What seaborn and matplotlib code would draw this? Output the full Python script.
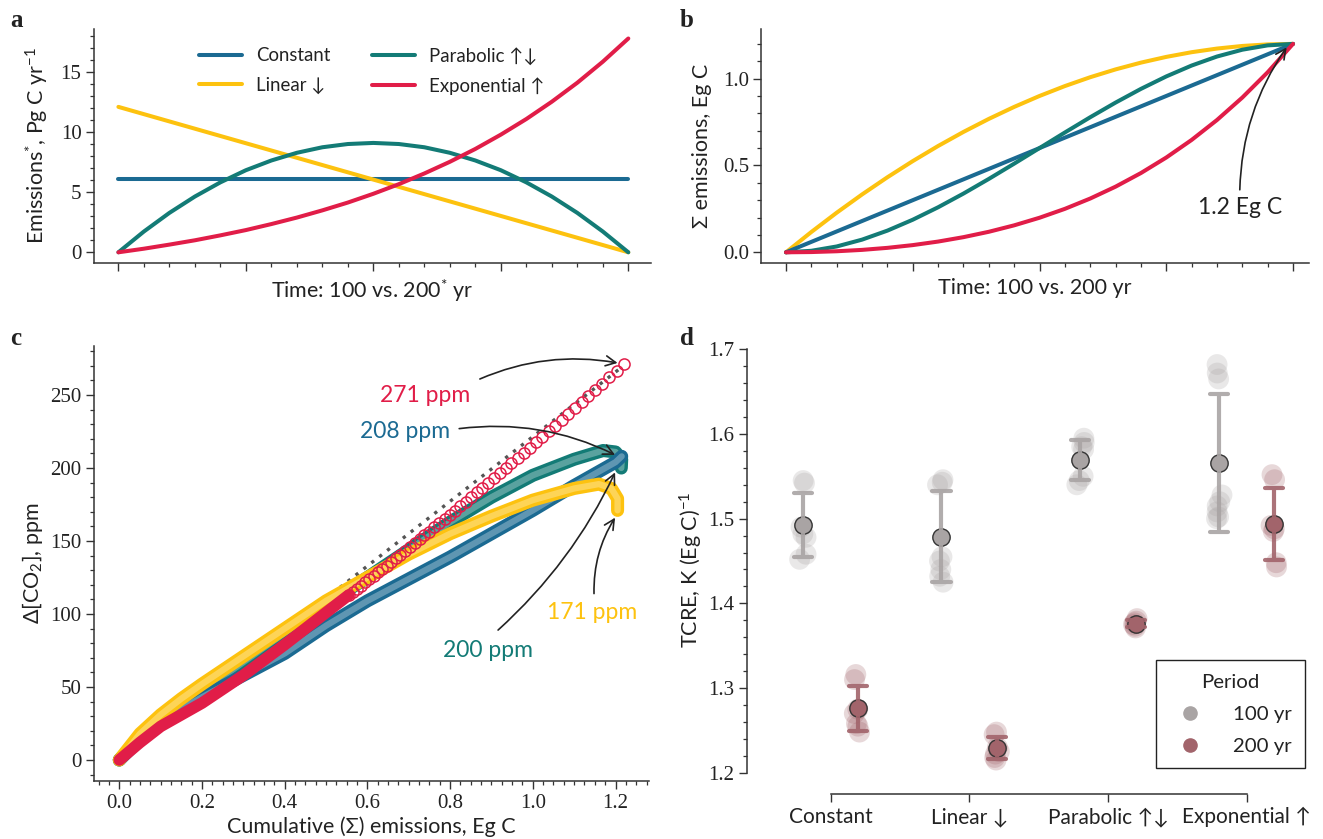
import numpy as np
import pandas as pd
import matplotlib
matplotlib.use("Agg")
import matplotlib.pyplot as plt
from matplotlib.lines import Line2D
from matplotlib.ticker import MultipleLocator, FixedLocator
import seaborn as sns

# ------------------------------------------------------------------ data
SCENARIOS = ["Constant", "Linear ↓", "Parabolic ↑↓", "Exponential ↑"]
COLORS = ["#1B6A92", "#FDC20F", "#137B76", "#E11D48"]
PERIODS = ["100 yr", "200 yr"]
PERIOD_COLORS = ["#A9A4A4", "#A2646B"]

# (a) emission pathways, years of the 200-yr version
years_flat = [0, 200]
emis_constant = [6.06, 6.06]
emis_linear = [12.1, 0.0]
years_curve = [0, 10, 20, 30, 40, 50, 60, 70, 80, 90, 100,
               110, 120, 130, 140, 150, 160, 170, 180, 190, 200]
emis_parabolic = [0.0, 1.73, 3.28, 4.64, 5.82, 6.83, 7.64, 8.28, 8.74, 9.01, 9.10,
                  9.01, 8.74, 8.28, 7.64, 6.83, 5.82, 4.64, 3.28, 1.73, 0.0]
emis_exponential = [0.0, 0.30, 0.64, 1.00, 1.41, 1.85, 2.35, 2.89, 3.49, 4.14, 4.87,
                    5.67, 6.56, 7.53, 8.60, 9.79, 11.09, 12.53, 14.11, 15.86, 17.79]

# (b) cumulative emissions, Eg C
cum_constant = [0.0, 1.2]
cum_linear = [0.0, 0.117, 0.228, 0.333, 0.432, 0.525, 0.612, 0.693, 0.768, 0.837, 0.900,
              0.957, 1.008, 1.053, 1.092, 1.125, 1.152, 1.173, 1.188, 1.197, 1.2]
cum_parabolic = [0.0, 0.0087, 0.0336, 0.0729, 0.1248, 0.1875, 0.2592, 0.3381, 0.4224, 0.5103, 0.6,
                 0.6897, 0.7776, 0.8619, 0.9408, 1.0125, 1.0752, 1.1271, 1.1664, 1.1913, 1.2]
cum_exponential = [0.0, 0.0014, 0.0060, 0.0139, 0.0256, 0.0414, 0.0618, 0.0872, 0.1181, 0.1552, 0.1989,
                   0.2501, 0.3095, 0.3779, 0.4563, 0.5456, 0.6469, 0.7616, 0.8910, 1.0365, 1.2]

# (c) CO2 response vs cumulative emissions
c_const_x = [0.0, 0.05, 0.1, 0.15, 0.2, 0.3, 0.4, 0.5, 0.6, 0.7, 0.8, 0.9, 1.0, 1.1, 1.2, 1.215]
c_const_y = [0, 14, 26, 35, 43, 58, 73, 92, 109, 124, 139, 155, 171, 188, 204, 208]
c_para_x = [0.0, 0.05, 0.1, 0.15, 0.2, 0.3, 0.4, 0.5, 0.6, 0.7, 0.8, 0.9, 1.0, 1.1, 1.17, 1.2, 1.215, 1.214]
c_para_y = [0, 15, 28, 38, 47, 67, 87, 107, 125, 144, 163, 180, 195, 206, 212, 211, 206, 200]
c_lin_x = [0.0, 0.05, 0.1, 0.15, 0.2, 0.3, 0.4, 0.5, 0.6, 0.7, 0.8, 0.9, 1.0, 1.1, 1.16, 1.19, 1.205, 1.205]
c_lin_y = [0, 18, 31, 42, 52, 71, 90, 109, 125, 141, 155, 167, 178, 186, 189, 186, 179, 171]
c_exp_x = [0.0, 0.05, 0.1, 0.15, 0.2, 0.3, 0.4, 0.5, 0.555]
c_exp_y = [0, 12, 23, 31, 39, 58, 79, 101, 113]
# late-period yearly samples of the exponential run
c_exp_ring_x = [0.5547, 0.5644, 0.5742, 0.5842, 0.5942, 0.6045, 0.6149, 0.6255, 0.6360, 0.6468,
                0.6577, 0.6688, 0.6798, 0.6912, 0.7026, 0.7143, 0.7260, 0.7379, 0.7499, 0.7620,
                0.7743, 0.7868, 0.7994, 0.8122, 0.8250, 0.8381, 0.8514, 0.8648, 0.8783, 0.8920,
                0.9059, 0.9199, 0.9340, 0.9484, 0.9630, 0.9777, 0.9926, 1.0076, 1.0229, 1.0383,
                1.0539, 1.0696, 1.0855, 1.1017, 1.1180, 1.1345, 1.1512, 1.1682, 1.1852, 1.2025, 1.2200]
c_exp_ring_y = [113.0, 115.0, 117.2, 119.4, 121.6, 123.8, 126.1, 128.5, 130.8, 133.2,
                135.6, 138.1, 140.6, 143.2, 145.7, 148.4, 151.1, 153.8, 156.5, 159.3,
                162.1, 165.0, 167.9, 170.9, 173.9, 177.0, 180.1, 183.3, 186.5, 189.7,
                193.0, 196.4, 199.8, 203.2, 206.8, 210.3, 214.0, 217.6, 221.4, 225.2,
                229.0, 232.9, 236.9, 240.9, 245.0, 249.2, 253.4, 257.8, 262.1, 266.5, 271.0]
c_ref_x = [0.0, 1.21]
c_ref_y = [0, 268]

# (d) TCRE per ensemble member, K (Eg C)^-1
tcre_100 = {
    "Constant": [1.545, 1.542, 1.49, 1.482, 1.478, 1.458, 1.452],
    "Linear ↓": [1.546, 1.543, 1.54, 1.455, 1.45, 1.44, 1.432, 1.425],
    "Parabolic ↑↓": [1.595, 1.59, 1.585, 1.582, 1.55, 1.545, 1.54],
    "Exponential ↑": [1.682, 1.672, 1.665, 1.528, 1.52, 1.515, 1.508, 1.502, 1.50],
}
tcre_200 = {
    "Constant": [1.316, 1.31, 1.275, 1.27, 1.255, 1.248, 1.258],
    "Linear ↓": [1.248, 1.245, 1.23, 1.225, 1.222, 1.218, 1.215],
    "Parabolic ↑↓": [1.382, 1.379, 1.377, 1.375, 1.373, 1.371],
    "Exponential ↑": [1.552, 1.546, 1.492, 1.488, 1.485, 1.448, 1.443],
}

# ------------------------------------------------------------------ style
sns.set_theme(style="ticks")
plt.rcParams.update({
    "font.family": ["Lato", "DejaVu Sans"],
    "mathtext.fontset": "custom",
    "mathtext.rm": "Lato",
    "mathtext.it": "Lato:italic",
    "mathtext.bf": "Lato:bold",
    "axes.edgecolor": "#333333",
    "axes.linewidth": 1.1,
    "axes.labelcolor": "#222222",
    "axes.labelsize": 15.5,
    "text.color": "#222222",
    "xtick.color": "#333333",
    "ytick.color": "#333333",
    "xtick.labelcolor": "#222222",
    "ytick.labelcolor": "#222222",
    "xtick.major.size": 6.0,
    "ytick.major.size": 5.5,
    "xtick.minor.size": 3.0,
    "ytick.minor.size": 3.0,
    "xtick.major.width": 1.0,
    "ytick.major.width": 1.0,
    "xtick.minor.width": 0.9,
    "ytick.minor.width": 0.9,
})
SERIF = "Liberation Serif"
TICK_FS = 15

W, H = 1323, 839
fig = plt.figure(figsize=(W / 100, H / 100), dpi=100)


def px_axes(left, top, right, bottom):
    return fig.add_axes([left / W, 1 - bottom / H, (right - left) / W, (bottom - top) / H])


def style_ticks(ax, xticks=None, xlabels=None, yticks=None, ylabels=None):
    if xticks is not None:
        ax.set_xticks(xticks, labels=xlabels, fontfamily=SERIF, fontsize=TICK_FS)
    if yticks is not None:
        ax.set_yticks(yticks, labels=ylabels, fontfamily=SERIF, fontsize=TICK_FS)


LW = 2.9

# ------------------------------------------------------------------ panel a
axa = px_axes(94, 29, 651, 263)
sns.lineplot(x=years_flat, y=emis_constant, ax=axa, color=COLORS[0], lw=LW, label=SCENARIOS[0])
sns.lineplot(x=years_flat, y=emis_linear, ax=axa, color=COLORS[1], lw=LW, label=SCENARIOS[1])
sns.lineplot(x=years_curve, y=emis_parabolic, ax=axa, color=COLORS[2], lw=LW, label=SCENARIOS[2])
sns.lineplot(x=years_curve, y=emis_exponential, ax=axa, color=COLORS[3], lw=LW, label=SCENARIOS[3])
axa.set_xlim(-9.57, 208.9)
axa.set_ylim(-0.89, 18.58)
style_ticks(axa, xticks=[0, 50, 100, 150, 200], xlabels=[], yticks=[0, 5, 10, 15],
            ylabels=["0", "5", "10", "15"])
axa.xaxis.set_minor_locator(MultipleLocator(10))
axa.yaxis.set_minor_locator(MultipleLocator(1))
axa.set_xlabel("Time: 100 vs. 200$^{*}$ yr", labelpad=1)
axa.set_ylabel("Emissions$^{*}$, Pg C yr$^{-1}$", labelpad=8)
axa.legend(ncol=2, loc="upper left", bbox_to_anchor=(0.188, 0.925), frameon=False,
           fontsize=13.4, handlelength=2.35, handletextpad=0.75, columnspacing=2.2,
           labelspacing=0.68, borderaxespad=0, borderpad=0)
sns.despine(ax=axa)

# ------------------------------------------------------------------ panel b
axb = px_axes(761.5, 29, 1309, 263)
sns.lineplot(x=years_curve, y=cum_linear, ax=axb, color=COLORS[1], lw=LW)
sns.lineplot(x=years_flat, y=cum_constant, ax=axb, color=COLORS[0], lw=LW)
sns.lineplot(x=years_curve, y=cum_parabolic, ax=axb, color=COLORS[2], lw=LW)
sns.lineplot(x=years_curve, y=cum_exponential, ax=axb, color=COLORS[3], lw=LW)
axb.set_xlim(-9.66, 206.3)
axb.set_ylim(-0.0616, 1.2856)
style_ticks(axb, xticks=[0, 50, 100, 150, 200], xlabels=[], yticks=[0, 0.5, 1.0],
            ylabels=["0.0", "0.5", "1.0"])
axb.xaxis.set_minor_locator(MultipleLocator(10))
axb.yaxis.set_minor_locator(MultipleLocator(0.1))
axb.set_xlabel("Time: 100 vs. 200 yr", labelpad=1)
axb.set_ylabel("Σ emissions, Eg C", labelpad=8)
axb.annotate("", xy=(197.5, 1.18), xytext=(179, 0.36),
             arrowprops=dict(arrowstyle="->,head_length=0.6,head_width=0.3", color="#222222",
                             lw=1.2, shrinkA=0, shrinkB=0, connectionstyle="arc3,rad=-0.15"))
axb.text(179, 0.26, "1.2 Eg C", ha="center", va="center", fontsize=16.5)
sns.despine(ax=axb)

# ------------------------------------------------------------------ panel c
axc = px_axes(94, 346, 649, 781)
sns.lineplot(x=c_ref_x, y=c_ref_y, ax=axc, color="#555555", lw=2.4, linestyle=(0, (1, 2)),
             sort=False, estimator=None, zorder=1)
band = [(c_para_x, c_para_y, COLORS[2], 2), (c_const_x, c_const_y, COLORS[0], 3),
        (c_lin_x, c_lin_y, COLORS[1], 4)]
for xs, ys, col, z in band:
    sns.lineplot(x=xs, y=ys, ax=axc, color=col, lw=9.4, sort=False, estimator=None,
                 solid_capstyle="round", solid_joinstyle="round", zorder=z)
    sns.lineplot(x=xs, y=ys, ax=axc, color="white", lw=4.5, alpha=0.3, sort=False,
                 estimator=None, solid_capstyle="round", solid_joinstyle="round", zorder=z + 0.1)
sns.lineplot(x=c_exp_x, y=c_exp_y, ax=axc, color=COLORS[3], lw=8.4, sort=False, estimator=None,
             solid_capstyle="round", solid_joinstyle="round", zorder=5)
sns.lineplot(x=c_exp_ring_x, y=c_exp_ring_y, ax=axc, color=COLORS[3], linestyle="", marker="o",
             markersize=8.0, markerfacecolor="none", markeredgecolor=COLORS[3], markeredgewidth=1.1,
             sort=False, estimator=None, zorder=6)
axc.set_xlim(-0.0612, 1.281)
axc.set_ylim(-14.4, 283.6)
style_ticks(axc, xticks=[0, 0.2, 0.4, 0.6, 0.8, 1.0, 1.2],
            xlabels=["0.0", "0.2", "0.4", "0.6", "0.8", "1.0", "1.2"],
            yticks=[0, 50, 100, 150, 200, 250], ylabels=["0", "50", "100", "150", "200", "250"])
axc.xaxis.set_minor_locator(MultipleLocator(0.025))
axc.yaxis.set_minor_locator(MultipleLocator(10))
axc.set_xlabel("Cumulative (Σ) emissions, Eg C", labelpad=2)
axc.set_ylabel("Δ[CO$_2$], ppm", labelpad=4)
arrow_kw = dict(arrowstyle="->,head_length=0.6,head_width=0.3", color="#222222", lw=1.2,
                shrinkA=0, shrinkB=0)
c_notes = [
    ("271 ppm", COLORS[3], (0.739, 250), (0.872, 261), (1.205, 272), -0.15),
    ("208 ppm", COLORS[0], (0.691, 225), (0.822, 227), (1.199, 209), -0.15),
    ("200 ppm", COLORS[2], (0.892, 75), (0.916, 89), (1.199, 197), 0.1),
    ("171 ppm", COLORS[1], (1.143, 101), (1.148, 114), (1.199, 166), -0.15),
]
for txt, col, tpos, tail, head, rad in c_notes:
    axc.text(*tpos, txt, color=col, ha="center", va="center", fontsize=16.5, zorder=8)
    axc.annotate("", xy=head, xytext=tail,
                 arrowprops=dict(connectionstyle=f"arc3,rad={rad}", **arrow_kw), zorder=8)
sns.despine(ax=axc)

# ------------------------------------------------------------------ panel d
rows = []
for period, table in zip(PERIODS, [tcre_100, tcre_200]):
    for scen in SCENARIOS:
        for v in table[scen]:
            rows.append({"scenario": scen, "period": period, "tcre": v})
tcre = pd.DataFrame(rows)

axd = px_axes(746.7, 344.8, 1310, 794)
np.random.seed(3)
sns.stripplot(data=tcre, x="scenario", y="tcre", hue="period", order=SCENARIOS,
              hue_order=PERIODS, palette=PERIOD_COLORS, dodge=True, jitter=0.06, size=15,
              alpha=0.25, linewidth=0, legend=False, ax=axd, zorder=1)
sns.pointplot(data=tcre, x="scenario", y="tcre", hue="period", order=SCENARIOS,
              hue_order=PERIODS, palette=PERIOD_COLORS, dodge=0.4, errorbar="sd", capsize=0.13,
              linestyle="none", marker="o", markersize=12.5, markeredgecolor="#333333",
              markeredgewidth=1.0, err_kws={"linewidth": 3.0, "alpha": 0.9}, legend=False, ax=axd)
axd.set_xlim(-0.604, 3.456)
axd.set_ylim(1.1749, 1.7053)
axd.set_xticks(range(4), labels=SCENARIOS, fontsize=15)
axd.set_yticks([1.2, 1.3, 1.4, 1.5, 1.6, 1.7],
               labels=["1.2", "1.3", "1.4", "1.5", "1.6", "1.7"], fontfamily=SERIF, fontsize=TICK_FS)
axd.yaxis.set_minor_locator(FixedLocator([1.2 + 0.02 * i for i in range(26)]))
axd.set_xlabel("")
axd.set_ylabel("TCRE, K (Eg C)$^{-1}$", labelpad=2)
sns.despine(ax=axd)
axd.spines["left"].set_bounds(1.2, 1.7)
axd.spines["bottom"].set_bounds(0, 3)
handles = [Line2D([], [], ls="", marker="o", ms=9.5, color=c) for c in PERIOD_COLORS]
leg = axd.legend(handles, PERIODS, title="Period", loc="lower right", bbox_to_anchor=(0.991, 0.058),
                 borderaxespad=0, fontsize=14.7, title_fontsize=14.7, handlelength=2.0,
                 handletextpad=1.1, labelspacing=0.72, borderpad=0.65, fancybox=False,
                 edgecolor="#222222", framealpha=1)
leg.get_frame().set_linewidth(1.0)

# ------------------------------------------------------------------ panel letters
for letter, x, y in [("a", 10, 27), ("b", 680, 27), ("c", 10, 345), ("d", 680, 345)]:
    fig.text(x / W, 1 - y / H, letter, fontfamily=SERIF, fontweight="bold", fontsize=18,
             va="baseline", ha="left")

fig.savefig("out.png", dpi=100)
